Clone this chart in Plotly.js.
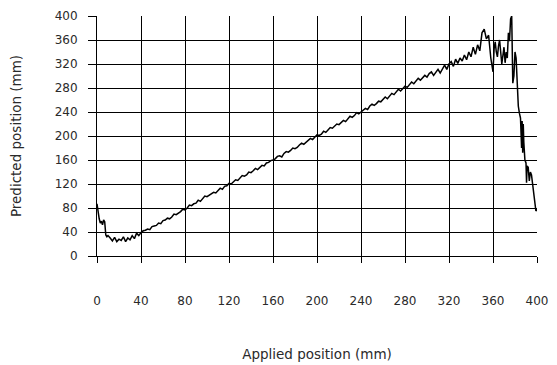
<!DOCTYPE html>
<html>
<head>
<meta charset="utf-8">
<script src="https://cdn.plot.ly/plotly-3.0.1.min.js"></script>
<style>html,body{margin:0;padding:0;background:#fff;}#chart{width:557px;height:365px;}</style>
</head>
<body>
<div id="chart"></div>
<script>
// Applied position (mm)
const appliedPosition = [
  0,1,2,3,4,5,6,7,8,9,10,12,14,16,18,20,22,24,26,28,30,32,34,36,38,40,
  42,44,46,48,50,52,54,56,58,60,62,64,66,68,70,72,74,76,78,80,
  82,84,86,88,90,92,94,96,98,100,102,104,106,108,110,112,114,116,118,120,
  122,124,126,128,130,132,134,136,138,140,142,144,146,148,150,152,154,156,158,160,
  162,164,166,168,170,172,174,176,178,180,182,184,186,188,190,192,194,196,198,200,
  202,204,206,208,210,212,214,216,218,220,222,224,226,228,230,232,234,236,238,240,
  242,244,246,248,250,252,254,256,258,260,262,264,266,268,270,272,274,276,278,280,
  282,284,286,288,290,292,294,296,298,300,302,304,306,308,310,312,314,316,318,320,
  322,324,326,328,330,332,334,336,338,340,342,344,346,348,350,352,354,356,358,360,
  361,362,363,364,365,366,368,369,370,371,372,373,374,375,376,377,378,379,380,381,
  382,383,384,385,386,386.5,387,387.5,388,389,390,390.5,391,392,393,394,395,396,397,398,399,400
];
// Predicted position (mm)
const predictedPosition = [
  87,70,62,55,58,52,60,57,35,32,34,30,25,31,24,28,26,32,24,30,27,34,29,38,34,39,
  42,43,45,44,49,50,51,55,54,59,60,63,62,65,70,69,71,74,78,77,
  80,85,84,87,88,93,91,95,100,99,101,104,106,105,110,113,111,116,117,121,
  120,123,127,126,130,134,133,135,140,139,142,146,144,148,151,150,155,156,159,160,
  162,166,167,165,171,174,173,176,180,179,181,185,188,186,189,193,196,194,199,202,
  201,203,208,206,210,214,213,216,220,219,222,226,224,228,233,231,234,239,237,240,
  243,246,244,250,253,251,254,258,257,261,265,262,267,271,269,274,278,275,279,283,
  281,286,290,287,292,296,293,297,301,298,304,307,301,306,311,305,313,318,311,320,
  324,316,328,321,330,325,335,327,340,332,348,336,352,342,372,378,362,368,330,307,
  345,357,340,332,350,360,320,335,348,322,340,330,372,358,395,400,288,300,340,330,
  285,250,238,230,180,225,172,220,190,160,155,122,150,148,125,140,135,120,98,90,75,78
];
const tickVals = [0,40,80,120,160,200,240,280,320,360,400];
const tickText = ["0","40","80","120","160","200","240","280","320","360","400"];

const trace = {
  x: appliedPosition,
  y: predictedPosition,
  type: 'scatter',
  mode: 'lines',
  line: {color: '#000', width: 1.5},
  hoverinfo: 'none'
};
const tickFont = {family: 'DejaVu Sans, Verdana, sans-serif', size: 12, color: '#2a2a2a'};
const titleFont = {family: 'DejaVu Sans, Verdana, sans-serif', size: 13.5, color: '#2a2a2a'};
const layout = {
  width: 557, height: 365,
  margin: {l: 97, r: 20, t: 16, b: 109},
  paper_bgcolor: '#fff', plot_bgcolor: '#fff',
  showlegend: false,
  font: tickFont,
  xaxis: {
    range: [0, 400], tickvals: tickVals, ticktext: tickText,
    showgrid: true, gridcolor: '#000', gridwidth: 1,
    zeroline: false, showline: true, linecolor: '#000', linewidth: 1,
    ticks: 'outside', ticklen: 6, tickcolor: '#000', tickwidth: 1,
    ticklabelstandoff: 28,
    tickfont: tickFont,
    title: {text: 'Applied position (mm)', font: titleFont, standoff: 42},
    automargin: false
  },
  yaxis: {
    range: [0, 400], tickvals: tickVals, ticktext: tickText,
    showgrid: true, gridcolor: '#000', gridwidth: 1,
    zeroline: false, showline: true, linecolor: '#000', linewidth: 1,
    ticks: 'outside', ticklen: 8, tickcolor: '#000', tickwidth: 1,
    ticklabelstandoff: 8,
    tickfont: tickFont,
    title: {text: 'Predicted position (mm)', font: titleFont, standoff: 29},
    automargin: false
  }
};
Plotly.newPlot('chart', [trace], layout, {staticPlot: true, displayModeBar: false});
</script>
</body>
</html>
